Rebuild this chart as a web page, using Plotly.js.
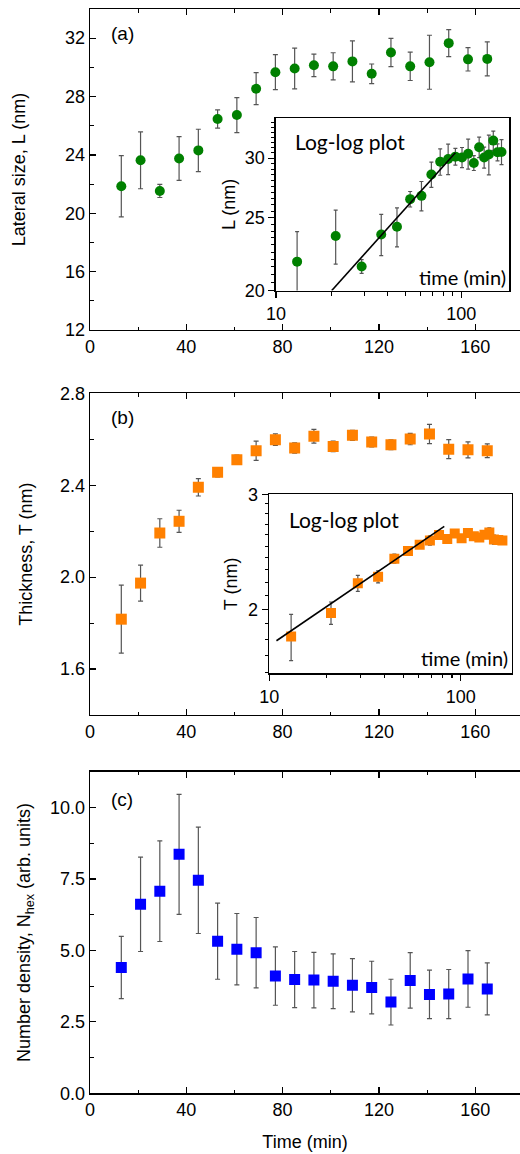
<!DOCTYPE html>
<html>
<head>
<meta charset="utf-8">
<script src="https://cdn.plot.ly/plotly-3.0.1.min.js"></script>
<style>html,body{margin:0;padding:0;background:#fff}#chart{width:520px;height:1154px}</style>
</head>
<body>
<div id="chart"></div>
<script>
// ---- data ----
const time = [13,21,29,37,45,53,61,69,77,85,93,101,109,117,125,133,141,149,157,165];
const L     = [21.85,23.63,21.53,23.75,24.31,26.46,26.73,28.54,29.67,29.92,30.14,30.07,30.41,29.56,31.02,30.07,30.35,31.66,30.55,30.58];
const L_err = [2.1,1.95,0.45,1.5,1.45,0.63,1.2,1.1,1.2,1.4,0.77,0.93,1.4,0.67,0.97,0.97,1.85,0.93,0.8,1.17];
const T     = [1.817,1.974,2.192,2.243,2.391,2.456,2.511,2.55,2.598,2.562,2.613,2.569,2.617,2.588,2.576,2.601,2.623,2.557,2.554,2.55];
const T_err = [0.148,0.078,0.062,0.048,0.038,0.02,0.02,0.042,0.025,0.022,0.03,0.023,0.022,0.021,0.021,0.025,0.042,0.041,0.035,0.03];
const N     = [4.40,6.61,7.07,8.36,7.45,5.32,5.04,4.92,4.10,3.98,3.96,3.92,3.78,3.70,3.19,3.95,3.46,3.47,4.00,3.65];
const N_err = [1.09,1.65,1.76,2.1,1.86,1.33,1.25,1.23,1.02,0.98,0.97,0.96,0.93,0.92,0.8,0.97,0.85,0.86,0.99,0.91];
// power-law fit lines in the log-log insets (end points)
const fitL_t = [20, 93];
const fitL   = [20, 30.5];
const fitT_t = [10.9, 82];
const fitT   = [1.79, 2.68];
// tick labels
const xTicks = [0,40,80,120,160];
const insetXTicks = [10,100];
const insetLTicks = [20,25,30];
const insetTTicks = [2,3];

const GREEN = '#008000', ORANGE = '#ff8000', BLUE = '#0000ff', ERR = '#555555';
const FONT = 'Arial, "Liberation Sans", sans-serif';
const IFONT = 'Lato, "Open Sans", sans-serif';

function errBar(arr, w){ return {type:'data', array:arr, visible:true, color:ERR, thickness:1.2, width:w}; }

const traces = [
  {x:time, y:L, xaxis:'x', yaxis:'y', mode:'markers', type:'scatter',
   marker:{symbol:'circle', size:10, color:GREEN}, error_y:errBar(L_err,2.5)},
  {x:time, y:T, xaxis:'x2', yaxis:'y2', mode:'markers', type:'scatter',
   marker:{symbol:'square', size:11, color:ORANGE}, error_y:errBar(T_err,2.5)},
  {x:time, y:N, xaxis:'x3', yaxis:'y3', mode:'markers', type:'scatter',
   marker:{symbol:'square', size:11, color:BLUE}, error_y:errBar(N_err,2.5)},
  {x:time, y:L, xaxis:'x4', yaxis:'y4', mode:'markers', type:'scatter',
   marker:{symbol:'circle', size:10, color:GREEN}, error_y:errBar(L_err,2)},
  {x:fitL_t, y:fitL, xaxis:'x4', yaxis:'y4', mode:'lines', type:'scatter',
   line:{color:'#000', width:1.6}},
  {x:time, y:T, xaxis:'x5', yaxis:'y5', mode:'markers', type:'scatter',
   marker:{symbol:'square', size:10, color:ORANGE}, error_y:errBar(T_err,2)},
  {x:fitT_t, y:fitT, xaxis:'x5', yaxis:'y5', mode:'lines', type:'scatter',
   line:{color:'#000', width:1.6}}
];

const W = 520, H = 1154;
const dx = (a,b)=>[a/W, b/W];
const dy = (top,bot)=>[1-bot/H, 1-top/H];
const TF = {family:FONT, size:18, color:'#000'};

function mainX(anchor){
  return {domain:dx(90,520), anchor:anchor, range:[0,178.6], showline:true, linecolor:'#000', linewidth:1.3,
    mirror:'allticks', ticks:'inside', ticklen:6, tickwidth:1.2, tickcolor:'#000',
    tickmode:'array', tickvals:xTicks, showgrid:false, zeroline:false,
    tickfont:TF,
    minor:{dtick:20, tick0:0, ticks:'inside', ticklen:3.5, tickwidth:1.1, tickcolor:'#000', showgrid:false}};
}
function mainY(anchor, dom, range, dtick, minor, fmt, title, standoff){
  return {domain:dom, anchor:anchor, range:range, showline:true, linecolor:'#000', linewidth:1.3,
    ticks:'inside', ticklen:6, tickwidth:1.2, tickcolor:'#000', dtick:dtick, tick0:0,
    tickformat:fmt, showgrid:false, zeroline:false,
    tickfont:TF,
    minor:{dtick:minor, tick0:0, ticks:'inside', ticklen:3.5, tickwidth:1.1, tickcolor:'#000', showgrid:false},
    title:{text:title, font:{family:FONT, size:18, color:'#000'}, standoff:standoff}};
}
function rangeVals(a,b,s,excl){ const out=[]; for(let v=a; v<=b+1e-9; v=Math.round((v+s)*1000)/1000){ if(!excl.includes(v)) out.push(v);} return out; }

const layout = {
  width:W, height:H, margin:{l:0,r:0,t:0,b:0}, paper_bgcolor:'#fff', plot_bgcolor:'rgba(0,0,0,0)',
  showlegend:false, font:{family:FONT, color:'#000'},
  xaxis: mainX('y'),
  yaxis: mainY('x', dy(9,330), [12,34], 4, 2, 'd', 'Lateral size, L (nm)', 34),
  xaxis2: mainX('y2'),
  yaxis2: mainY('x2', dy(393.3,715), [1.4,2.8], 0.4, 0.2, '.1f', 'Thickness, T (nm)', 22),
  xaxis3: Object.assign(mainX('y3'), {title:{text:'Time (min)', font:{family:FONT, size:18, color:'#000'}, standoff:16}}),
  yaxis3: mainY('x3', dy(771.7,1093.3), [0,11.25], 2.5, 1.25, '.1f', 'Number density, N<sub>hex</sub> (arb. units)', 14),
  xaxis4: {domain:dx(276,509), anchor:'y4', type:'log', range:[1,2.258], showline:true, mirror:true, linecolor:'#000', linewidth:1.6,
    ticks:'outside', ticklen:6, tickwidth:1.2, tickcolor:'#000', tickmode:'array', tickvals:insetXTicks, ticktext:insetXTicks.map(String),
    showgrid:false, zeroline:false, tickfont:TF,
    minor:{tickmode:'array', tickvals:[20,30,40,50,60,70,80,90], ticks:'outside', ticklen:3.5, tickwidth:1.1, tickcolor:'#000', showgrid:false}},
  yaxis4: {domain:dy(118.3,290.5), anchor:'x4', type:'log', range:[Math.log10(20), Math.log10(33.9)], showline:true, mirror:true, linecolor:'#000', linewidth:1.6,
    ticks:'outside', ticklen:6, tickwidth:1.2, tickcolor:'#000', tickmode:'array', tickvals:insetLTicks, ticktext:insetLTicks.map(String),
    showgrid:false, zeroline:false, tickfont:TF,
    minor:{tickmode:'array', tickvals:rangeVals(20.5,33.5,0.5,insetLTicks), ticks:'outside', ticklen:3, tickwidth:1, tickcolor:'#000', showgrid:false},
    title:{text:'L (nm)', font:{family:FONT, size:18, color:'#000'}, standoff:4}},
  xaxis5: {domain:dx(269.3,511.7), anchor:'y5', type:'log', range:[1,2.266], showline:true, mirror:true, linecolor:'#000', linewidth:1.6,
    ticks:'outside', ticklen:6, tickwidth:1.2, tickcolor:'#000', tickmode:'array', tickvals:insetXTicks, ticktext:insetXTicks.map(String),
    showgrid:false, zeroline:false, tickfont:TF,
    minor:{tickmode:'array', tickvals:[20,30,40,50,60,70,80,90], ticks:'outside', ticklen:3.5, tickwidth:1.1, tickcolor:'#000', showgrid:false}},
  yaxis5: {domain:dy(494.3,673.3), anchor:'x5', type:'log', range:[0.203, Math.log10(3)], showline:true, mirror:true, linecolor:'#000', linewidth:1.6,
    ticks:'outside', ticklen:6, tickwidth:1.2, tickcolor:'#000', tickmode:'array', tickvals:insetTTicks, ticktext:insetTTicks.map(String),
    showgrid:false, zeroline:false, tickfont:TF,
    minor:{tickmode:'array', tickvals:rangeVals(1.6,2.9,0.1,[2]), ticks:'outside', ticklen:3, tickwidth:1, tickcolor:'#000', showgrid:false},
    title:{text:'T (nm)', font:{family:FONT, size:18, color:'#000'}, standoff:6}},
  annotations: [
    {text:'(a)', xref:'x domain', yref:'y domain', x:0.045, y:0.925, xanchor:'left', yanchor:'middle', showarrow:false, font:{family:FONT, size:19, color:'#000'}},
    {text:'(b)', xref:'x2 domain', yref:'y2 domain', x:0.045, y:0.925, xanchor:'left', yanchor:'middle', showarrow:false, font:{family:FONT, size:19, color:'#000'}},
    {text:'(c)', xref:'x3 domain', yref:'y3 domain', x:0.045, y:0.915, xanchor:'left', yanchor:'middle', showarrow:false, font:{family:FONT, size:19, color:'#000'}},
    {text:'Log-log plot', xref:'x4 domain', yref:'y4 domain', x:0.075, y:0.865, xanchor:'left', yanchor:'middle', showarrow:false, font:{family:IFONT, size:21, color:'#000'}},
    {text:'time (min)', xref:'x4 domain', yref:'y4 domain', x:0.995, y:0.08, xanchor:'right', yanchor:'middle', showarrow:false, font:{family:IFONT, size:20, color:'#000'}},
    {text:'Log-log plot', xref:'x5 domain', yref:'y5 domain', x:0.075, y:0.86, xanchor:'left', yanchor:'middle', showarrow:false, font:{family:IFONT, size:21, color:'#000'}},
    {text:'time (min)', xref:'x5 domain', yref:'y5 domain', x:0.995, y:0.085, xanchor:'right', yanchor:'middle', showarrow:false, font:{family:IFONT, size:20, color:'#000'}}
  ]
};

Plotly.newPlot('chart', traces, layout, {staticPlot:true, displayModeBar:false});
</script>
</body>
</html>
